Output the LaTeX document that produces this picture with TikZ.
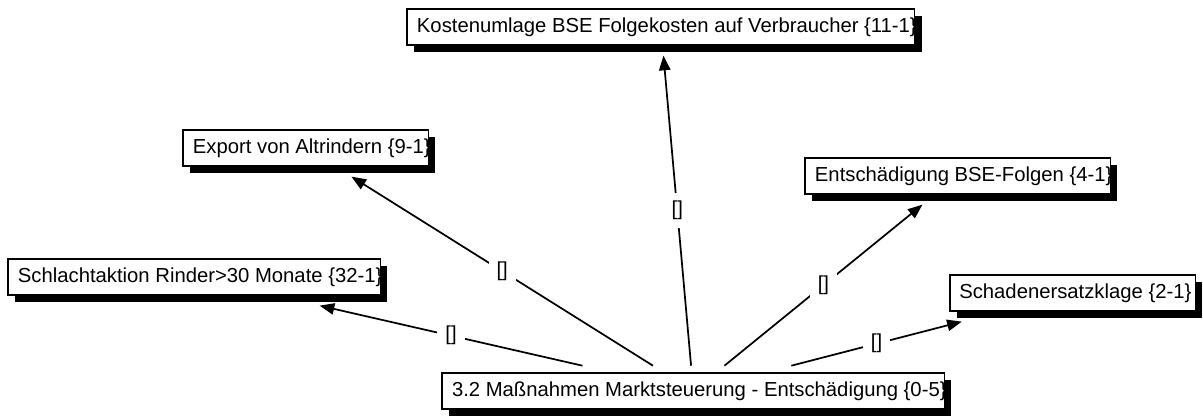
\documentclass[tikz,border=0pt]{standalone}
\usepackage{fontspec}
\setmainfont{Liberation Sans}
\usetikzlibrary{arrows.meta,shadows}
\tikzset{
  boxnode/.style={draw=black, fill=white, line width=0.9pt, inner xsep=0pt, inner ysep=0pt,
    minimum height=27pt, anchor=north west, outer sep=8pt,
    font=\fontsize{15.2}{18}\selectfont,
    general shadow={fill=black, shadow xshift=5pt, shadow yshift=-5.5pt}},
  srcnode/.style={boxnode, outer sep=5.5pt},
  lbl/.style={font=\fontsize{15.2}{18}\selectfont, fill=white, inner xsep=6pt, inner ysep=6pt},
  conn/.style={line width=1.3pt, -{Triangle[length=11pt,width=8.5pt]}}
}
\newcommand{\boxtext}[1]{\hspace*{7.5pt}#1\hspace*{-1.5pt}}
\begin{document}
\begin{tikzpicture}[x=0.75pt,y=-0.75pt]
\useasboundingbox (0,0) rectangle (1203,417);
\node[boxnode] (k) at (396.3,-1.7) {\boxtext{Kostenumlage BSE Folgekosten auf Verbraucher \{11-1\}}};
\node[boxnode] (e) at (172.3,119.3) {\boxtext{Export von Altrindern \{9-1\}}};
\node[boxnode] (f) at (794.3,147.3) {\boxtext{Entschädigung BSE-Folgen \{4-1\}}};
\node[boxnode] (s) at (-2.7,248.3) {\boxtext{Schlachtaktion Rinder>30 Monate \{32-1\}}};
\node[boxnode] (z) at (939.3,264.3) {\hspace*{7pt}Schadenersatzklage \{2-1\}\hspace*{3pt}};
\node[srcnode] (m) at (434.7,365.7) {\boxtext{3.2 Maßnahmen Marktsteuerung - Entschädigung \{0-5\}}};
\draw[conn] (m) -- node[lbl] {[]} (k);
\draw[conn] (m) -- node[lbl] {[]} (e);
\draw[conn] (m) -- node[lbl] {[]} (f);
\draw[conn] (m) -- node[lbl] {[]} (s);
\draw[conn] (m) -- node[lbl] {[]} (z);
\end{tikzpicture}
\end{document}
